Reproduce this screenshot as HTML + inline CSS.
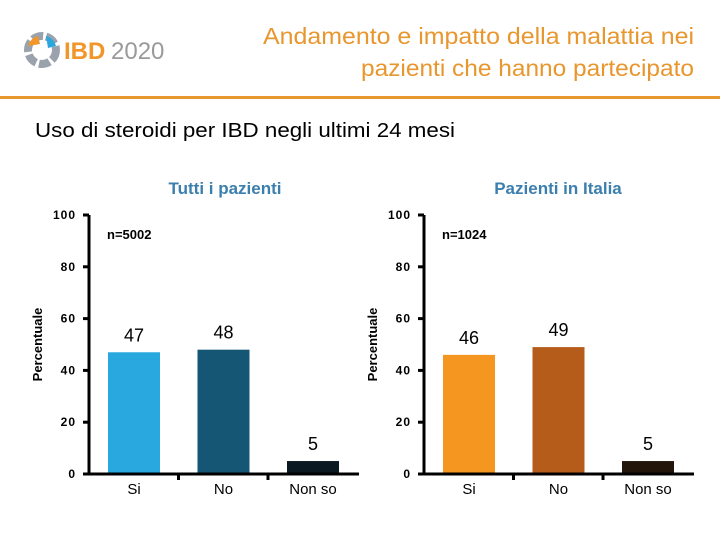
<!DOCTYPE html>
<html><head><meta charset="utf-8"><style>
body{margin:0;background:#fff;}
svg{display:block;font-family:"Liberation Sans",sans-serif;}
</style></head><body>
<svg id="s" width="720" height="540" xmlns="http://www.w3.org/2000/svg">
<g>
<circle cx="42" cy="50" r="14" fill="none" stroke="#9aa3ad" stroke-width="8" stroke-dasharray="11 3"/>
<path d="M28 46 A14 14 0 0 1 38 36 L40 44 Z" fill="#f0962a"/>
<path d="M46 36 A14 14 0 0 1 56 46 L48 48 Z" fill="#2aa7dd"/>
<text x="64" y="59" font-size="24" font-weight="bold" fill="#f0962a">IBD</text>
<text x="111" y="59" font-size="24" fill="#9a9a9a">2020</text>
</g>
<text x="694" y="44" font-size="23" fill="#e8962e" text-anchor="end" textLength="431" lengthAdjust="spacingAndGlyphs">Andamento e impatto della malattia nei</text>
<text x="694" y="76" font-size="23" fill="#e8962e" text-anchor="end" textLength="333" lengthAdjust="spacingAndGlyphs">pazienti che hanno partecipato</text>
<rect x="0" y="96" width="720" height="3" fill="#e8962e"/>
<text x="35" y="137" font-size="20" fill="#000" textLength="420" lengthAdjust="spacingAndGlyphs">Uso di steroidi per IBD negli ultimi 24 mesi</text>
<g id="c1"></g><g id="c2"></g>
</svg>
<script>
const categories=["Si","No","Non so"];
const allValues=[47,48,5];
const italyValues=[46,49,5];
const tickLabels=[0,20,40,60,80,100];
const NS="http://www.w3.org/2000/svg";
function mk(p,tag,a,t){const e=document.createElementNS(NS,tag);for(const k in a)e.setAttribute(k,a[k]);if(t!==undefined)e.textContent=t;p.appendChild(e);return e;}
function chart(g,ax,title,titleX,n,values,colors){
  const y0=474,y100=215;
  const y=v=>y0-(v/100)*(y0-y100);
  const x=i=>ax+19+i*89.5;
  const t=mk(g,'text',{x:titleX,y:194,'font-size':17,'font-weight':'bold',fill:'#3b7fae','text-anchor':'middle'},title);
  
  
  const nt=mk(g,'text',{x:ax+18,y:239,'font-size':13,'font-weight':'bold'},n);
  
  
  const yt=mk(g,'text',{transform:`translate(${ax-47},${(y0+y100)/2}) rotate(-90)`,'font-size':13,'font-weight':'bold','text-anchor':'middle'},'Percentuale');
  
  
  const yl=mk(g,'line',{x1:ax,y1:y100,x2:ax,y2:y0,stroke:'#000','stroke-width':3});
  
  
  const xl=mk(g,'line',{x1:ax-6,y1:y0,x2:ax+270,y2:y0,stroke:'#000','stroke-width':3});
  
  
  tickLabels.forEach(v=>{
    const tk=mk(g,'line',{x1:ax-6,y1:y(v),x2:ax,y2:y(v),stroke:'#000','stroke-width':3});
    
    
    const tl=mk(g,'text',{x:ax-13,y:y(v)+4,'font-size':12,'font-weight':'bold','text-anchor':'end','letter-spacing':'1'},String(v));
    
    
  });
  [1,2].forEach(i=>{
    const tk=mk(g,'line',{x1:x(i)-19,y1:y0,x2:x(i)-19,y2:y0+6,stroke:'#000','stroke-width':3});
    
    
  });
  categories.forEach((c,i)=>{
    const b=mk(g,'rect',{x:x(i),y:y(values[i]),width:52,height:y0-y(values[i])-1.5,fill:colors[i]});
    
    
    const vl=mk(g,'text',{x:x(i)+26,y:y(values[i])-11,'font-size':18,'text-anchor':'middle'},String(values[i]));
    
    
    const cl=mk(g,'text',{x:x(i)+26,y:494,'font-size':15,'text-anchor':'middle'},c);
    
    
  });
}
chart(document.getElementById('c1'),89,'Tutti i pazienti',225,'n=5002',allValues,['#29a8e0','#145674','#0b1a22']);
chart(document.getElementById('c2'),424,'Pazienti in Italia',558,'n=1024',italyValues,['#f4961f','#b65c1a','#24150a']);
</script>
</body></html>
